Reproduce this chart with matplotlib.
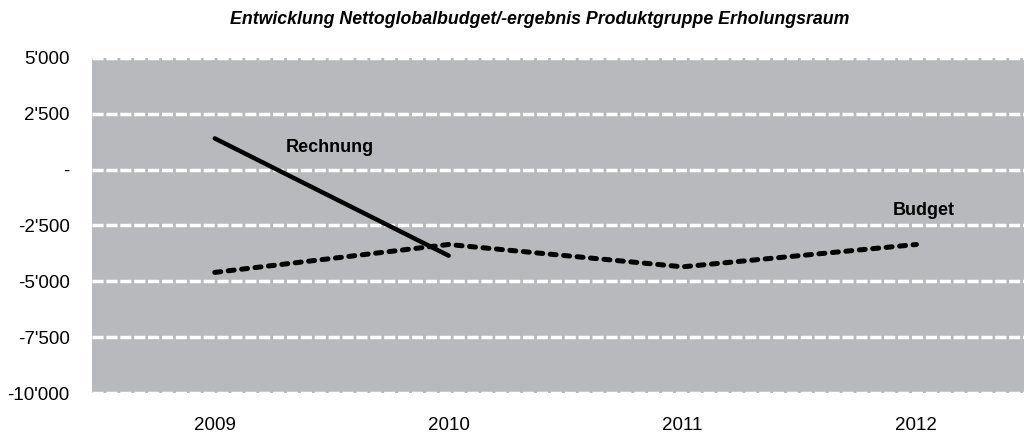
import matplotlib.pyplot as plt

years = ['2009', '2010', '2011', '2012']
rechnung = [1400, -3850]
budget = [-4600, -3350, -4350, -3350]
yticks = [5000, 2500, 0, -2500, -5000, -7500, -10000]
ylabels = ["5'000", "2'500", "-", "-2'500", "-5'000", "-7'500", "-10'000"]
title = 'Entwicklung Nettoglobalbudget/-ergebnis Produktgruppe Erholungsraum'

plt.rcParams['font.family'] = ['Liberation Sans', 'DejaVu Sans']

fig = plt.figure(figsize=(10.24, 4.36), dpi=100)
ax = fig.add_axes([92/1024, 1-393/436, 1-92/1024, (393-58)/436])
ax.set_facecolor('#b8b9bc')

x = list(range(len(years)))
for yv in yticks:
    ax.axhline(yv, color='white', lw=2.5, ls=(0, (3.2, 0.8)), zorder=1)

ax.plot(x[:len(rechnung)], rechnung, color='black', lw=3.2, solid_capstyle='round', zorder=3)
ax.plot(x, budget, color='black', lw=3.6, ls=(0, (1.2, 1.5)), dash_capstyle='round', zorder=3)

ax.text(0.49, 1000, 'Rechnung', fontsize=13, fontweight='bold', ha='center', va='center')
ax.text(3.03, -1850, 'Budget', fontsize=13, fontweight='bold', ha='center', va='center')

ax.set_xlim(-0.525, 3.46)
ax.set_ylim(-10000, 5000)
ax.set_xticks(x)
ax.set_xticklabels(years, fontsize=13.5)
ax.set_yticks(yticks)
ax.set_yticklabels(ylabels, fontsize=13.5)
ax.tick_params(length=0)
ax.tick_params(axis='y', pad=16)
ax.tick_params(axis='x', pad=17)
for s in ax.spines.values():
    s.set_visible(False)

fig.text(0.527, 1-20/436, title, fontsize=12.8, fontstyle='italic', fontweight='bold',
         ha='center', va='center')

fig.savefig('out.png', dpi=100)
